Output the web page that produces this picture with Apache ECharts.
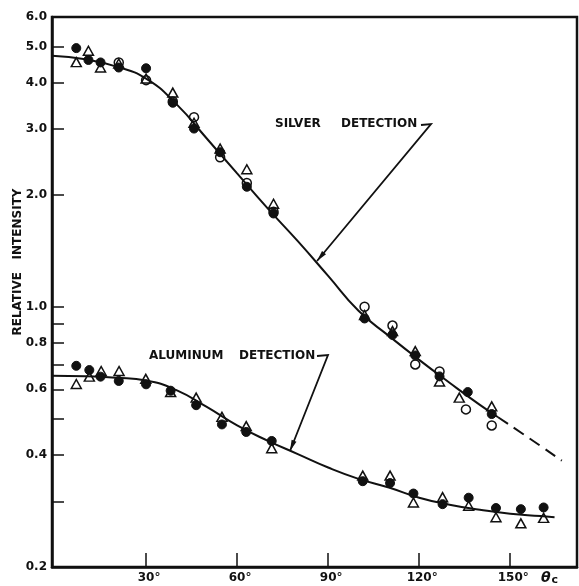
<!DOCTYPE html>
<html>
<head>
<meta charset="utf-8">
<script src="https://cdn.jsdelivr.net/npm/echarts@6/dist/echarts.min.js"></script>
<style>
  html, body { margin: 0; padding: 0; background: #fff; }
  #chart { width: 579px; height: 586px; }
</style>
</head>
<body>
<div id="chart"></div>
<script>
// Axis ticks and labels
const xTickValues = [30, 60, 90, 120, 150];
const yTickValues = [0.2, 0.3, 0.4, 0.5, 0.6, 0.7, 0.8, 0.9, 1, 2, 3, 4, 5, 6];
const yLabelValues = [0.2, 0.4, 0.6, 0.8, 1, 2, 3, 4, 5, 6];

// Silver detection: measured points [angle deg, relative intensity]
const silverFilled = [[7,4.95],[11,4.60],[15,4.53],[21,4.39],[30,4.37],[38.8,3.53],[45.8,3.01],[54.4,2.60],[63.2,2.10],[72,1.78],[102,0.93],[111.2,0.84],[118.7,0.74],[126.7,0.65],[136,0.59],[143.9,0.515]];
const silverOpen = [[21,4.53],[30,4.06],[38.8,3.56],[45.8,3.23],[54.4,2.52],[63.2,2.15],[72,1.80],[102,1.00],[111.2,0.89],[118.7,0.70],[126.7,0.67],[135.4,0.53],[143.9,0.48]];
const silverTriangle = [[7,4.54],[11,4.87],[15,4.39],[21,4.50],[30,4.10],[38.8,3.76],[45.8,3.12],[54.4,2.66],[63.2,2.34],[72,1.89],[102,0.95],[111.2,0.86],[118.7,0.76],[126.7,0.63],[133.2,0.57],[143.9,0.54]];
// Silver fitted curve (solid) and its extrapolation (dashed)
const silverCurve = [[-1,4.72],[10,4.62],[20,4.42],[30,4.10],[40,3.50],[50,2.83],[60,2.28],[70,1.84],[80,1.50],[90,1.21],[100,0.975],[110,0.835],[120,0.72],[130,0.625],[140,0.545],[146,0.505]];
const silverExtrapolation = [[146,0.505],[156,0.445],[167,0.386]];

// Aluminum detection: measured points
const aluminumFilled = [[7,0.694],[11.3,0.676],[15,0.649],[21,0.632],[30,0.619],[38.1,0.595],[46.5,0.544],[55,0.483],[63,0.461],[71.4,0.436],[101.4,0.340],[110.4,0.336],[118.1,0.315],[127.7,0.295],[136.3,0.307],[145.3,0.288],[153.5,0.286],[161,0.289]];
const aluminumTriangle = [[7,0.62],[11.3,0.649],[15.2,0.672],[21.1,0.672],[29.9,0.640],[38.1,0.59],[46.5,0.57],[55,0.506],[63,0.478],[71.4,0.417],[101.4,0.352],[110.4,0.352],[118.1,0.298],[127.7,0.308],[136.3,0.292],[145.3,0.272],[153.5,0.262],[161,0.271]];
const aluminumCurve = [[-1,0.653],[10,0.651],[20,0.645],[30,0.634],[40,0.597],[50,0.538],[60,0.48],[70,0.437],[80,0.402],[90,0.37],[100,0.345],[110,0.327],[120,0.307],[130,0.294],[140,0.285],[150,0.278],[160,0.274],[164.6,0.272]];

const INK = '#111';
const FONT = 'DejaVu Sans';

const chart = echarts.init(document.getElementById('chart'), null, { renderer: 'canvas' });

function curveSeries(data, dashed) {
  return {
    type: 'line', data, smooth: 0.5,
    showSymbol: false, silent: true, z: 2,
    lineStyle: { color: INK, width: 2, type: dashed ? [12, 7] : 'solid' }
  };
}
function pointSeries(data, symbol, filled, size) {
  return {
    type: 'scatter', data, symbol, symbolSize: size, z: 3,
    itemStyle: filled
      ? { color: INK, borderColor: INK, borderWidth: 1, opacity: 1 }
      : { color: 'rgba(255,255,255,0)', borderColor: INK, borderWidth: 1.5, opacity: 1 }
  };
}

chart.setOption({
  animation: false,
  backgroundColor: '#fff',
  grid: { left: 52, right: 2, top: 17, bottom: 19, show: true, borderColor: INK, borderWidth: 2.5, backgroundColor: 'transparent' },
  xAxis: {
    type: 'value', min: -1, max: 172,
    axisLine: { show: true, onZero: false, lineStyle: { color: INK, width: 2.5 } },
    axisTick: { show: true, inside: true, length: 14, customValues: xTickValues, lineStyle: { color: INK, width: 1.5 } },
    axisLabel: { customValues: xTickValues, margin: 5, color: INK, fontFamily: FONT, fontWeight: 'bold', fontSize: 12,
      formatter: v => '\u2002' + v + '°' },
    splitLine: { show: false }
  },
  yAxis: {
    type: 'log', logBase: 10, min: 0.2, max: 6,
    axisLine: { show: true, onZero: false, lineStyle: { color: INK, width: 2.5 } },
    axisTick: { show: true, inside: true, length: 12, customValues: yTickValues, lineStyle: { color: INK, width: 1.5 } },
    axisLabel: { customValues: yLabelValues, margin: 5, color: INK, fontFamily: FONT, fontWeight: 'bold', fontSize: 12,
      showMinLabel: true, showMaxLabel: true, formatter: v => Number(v).toFixed(1) },
    splitLine: { show: false }
  },
  series: [
    curveSeries(silverCurve, false),
    curveSeries(silverExtrapolation, true),
    curveSeries(aluminumCurve, false),
    pointSeries(silverFilled, 'circle', true, 9),
    pointSeries(aluminumFilled, 'circle', true, 9),
    pointSeries(silverOpen, 'circle', false, 9),
    pointSeries(silverTriangle, 'triangle', false, [10, 9]),
    pointSeries(aluminumTriangle, 'triangle', false, [10, 9])
  ]
});

// Callout labels with leader arrows
function callout(path) {
  const els = [{
    type: 'polyline', silent: true, z: 10,
    shape: { points: path },
    style: { stroke: INK, lineWidth: 1.8, fill: null }
  }];
  const tip = path[path.length - 1], from = path[path.length - 2];
  const dx = tip[0] - from[0], dy = tip[1] - from[1];
  const len = Math.hypot(dx, dy), ux = dx / len, uy = dy / len;
  const bx = tip[0] - ux * 11, by = tip[1] - uy * 11;
  els.push({
    type: 'polygon', silent: true, z: 10,
    shape: { points: [tip, [bx - uy * 2.6, by + ux * 2.6], [bx + uy * 2.6, by - ux * 2.6]] },
    style: { fill: INK }
  });
  return els;
}
function label(text, x, y) {
  return { type: 'text', x, y, silent: true, z: 10,
    style: { text, fill: INK, font: 'bold 12px "' + FONT + '"', align: 'left', verticalAlign: 'middle' } };
}

chart.setOption({
  graphic: [
    label('SILVER', 275, 124),
    label('DETECTION', 341, 124),
    ...callout([[421, 125], [431, 124], [317, 261]]),
    label('ALUMINUM', 149, 356),
    label('DETECTION', 239, 356),
    ...callout([[317, 356], [328, 355], [290, 451]]),
    {
      type: 'text', x: 18, y: 262, rotation: Math.PI / 2, silent: true,
      style: { text: 'RELATIVE   INTENSITY', fill: INK, font: 'bold 12px "' + FONT + '"', align: 'center', verticalAlign: 'middle' }
    },
    {
      type: 'text', x: 541, y: 578, silent: true,
      style: {
        text: '{t|θ}{s|c}', align: 'left', verticalAlign: 'middle',
        rich: {
          t: { fontFamily: FONT, fontStyle: 'italic', fontWeight: 'bold', fontSize: 14, fill: INK },
          s: { fontFamily: FONT, fontWeight: 'bold', fontSize: 11, fill: INK, padding: [4, 0, 0, 1] }
        }
      }
    }
  ]
});
</script>
</body>
</html>
